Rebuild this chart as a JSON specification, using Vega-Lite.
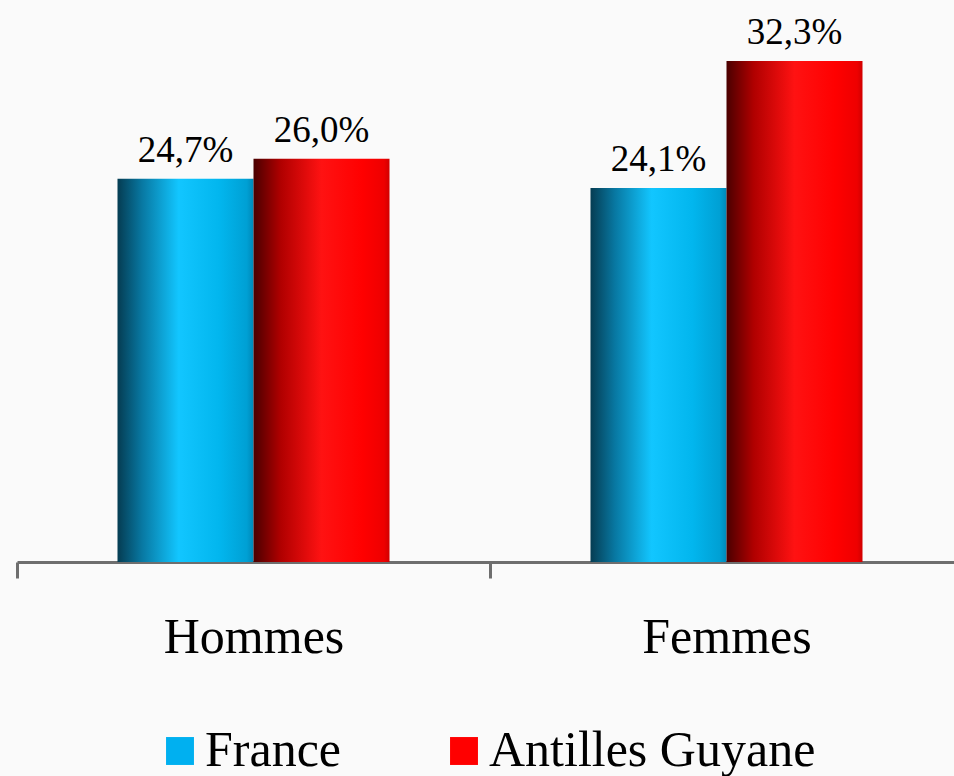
{
  "$schema": "https://vega.github.io/schema/vega-lite/v6.json",
  "autosize": {"type": "none"},
  "width": 937,
  "height": 543,
  "padding": {"left": 17, "top": 19, "right": 0, "bottom": 214},
  "background": "#fafafa",
  "config": {
    "view": {"stroke": null},
    "font": "Liberation Serif",
    "legend": {"symbolOpacity": 1}
  },
  "data": {
    "values": [
      {"groupe": "Hommes", "serie": "France", "valeur": 24.7, "label": "24,7%"},
      {"groupe": "Hommes", "serie": "Antilles Guyane", "valeur": 26.0, "label": "26,0%"},
      {"groupe": "Femmes", "serie": "France", "valeur": 24.1, "label": "24,1%"},
      {"groupe": "Femmes", "serie": "Antilles Guyane", "valeur": 32.3, "label": "32,3%"}
    ]
  },
  "encoding": {
    "x": {
      "field": "groupe",
      "type": "nominal",
      "sort": ["Hommes", "Femmes"],
      "scale": {"domain": ["Hommes", "Femmes"], "range": [0, 946], "paddingInner": 0, "paddingOuter": 0},
      "axis": {
        "title": null,
        "labelAngle": 0,
        "labelFont": "Liberation Serif",
        "labelFontSize": 50,
        "labelColor": "#000000",
        "labelPadding": 34,
        "labelLimit": 0,
        "tickBand": "extent",
        "tickSize": 16,
        "tickWidth": 3,
        "tickColor": "#6e6e6e",
        "domainColor": "#6e6e6e",
        "domainWidth": 3,
        "grid": false
      }
    },
    "xOffset": {
      "field": "serie",
      "type": "nominal",
      "scale": {"domain": ["France", "Antilles Guyane"], "paddingInner": 0, "paddingOuter": 0.739}
    },
    "y": {
      "field": "valeur",
      "type": "quantitative",
      "scale": {"domain": [0, 35], "nice": false, "zero": true},
      "axis": null
    }
  },
  "layer": [
    {
      "transform": [{"filter": "datum.serie === 'France'"}],
      "mark": {
        "type": "bar",
        "fill": {
          "gradient": "linear", "x1": 0, "x2": 1, "y1": 0, "y2": 0,
          "stops": [
            {"offset": 0, "color": "#053c52"},
            {"offset": 0.18, "color": "#0878a2"},
            {"offset": 0.45, "color": "#12c6ff"},
            {"offset": 0.75, "color": "#02b6ee"},
            {"offset": 0.95, "color": "#00a0d4"},
            {"offset": 1, "color": "#0088b8"}
          ]
        },
        "stroke": null
      }
    },
    {
      "transform": [{"filter": "datum.serie === 'Antilles Guyane'"}],
      "mark": {
        "type": "bar",
        "fill": {
          "gradient": "linear", "x1": 0, "x2": 1, "y1": 0, "y2": 0,
          "stops": [
            {"offset": 0, "color": "#4a0000"},
            {"offset": 0.2, "color": "#b00000"},
            {"offset": 0.5, "color": "#ff1212"},
            {"offset": 0.8, "color": "#ff0000"},
            {"offset": 0.96, "color": "#ee0000"},
            {"offset": 1, "color": "#d00000"}
          ]
        },
        "stroke": null
      }
    },
    {
      "mark": {"type": "point", "shape": "square", "opacity": 0, "filled": true},
      "encoding": {
        "color": {
          "field": "serie",
          "type": "nominal",
          "scale": {"domain": ["France", "Antilles Guyane"], "range": ["#00b0f0", "#ff0000"]},
          "legend": {
            "title": null,
            "orient": "none",
            "direction": "horizontal",
            "legendX": 138,
            "legendY": 707,
            "symbolType": "square",
            "symbolSize": 780,
            "symbolOpacity": 1,
            "symbolStrokeWidth": 0,
            "labelFont": "Liberation Serif",
            "labelFontSize": 50,
            "labelColor": "#000000",
            "labelOffset": 0,
            "labelLimit": 0,
            "columnPadding": 97
          }
        }
      }
    },
    {
      "mark": {"type": "text", "baseline": "alphabetic", "dy": -17, "fontSize": 37, "font": "Liberation Serif", "color": "#000000"},
      "encoding": {"text": {"field": "label"}}
    }
  ]
}
